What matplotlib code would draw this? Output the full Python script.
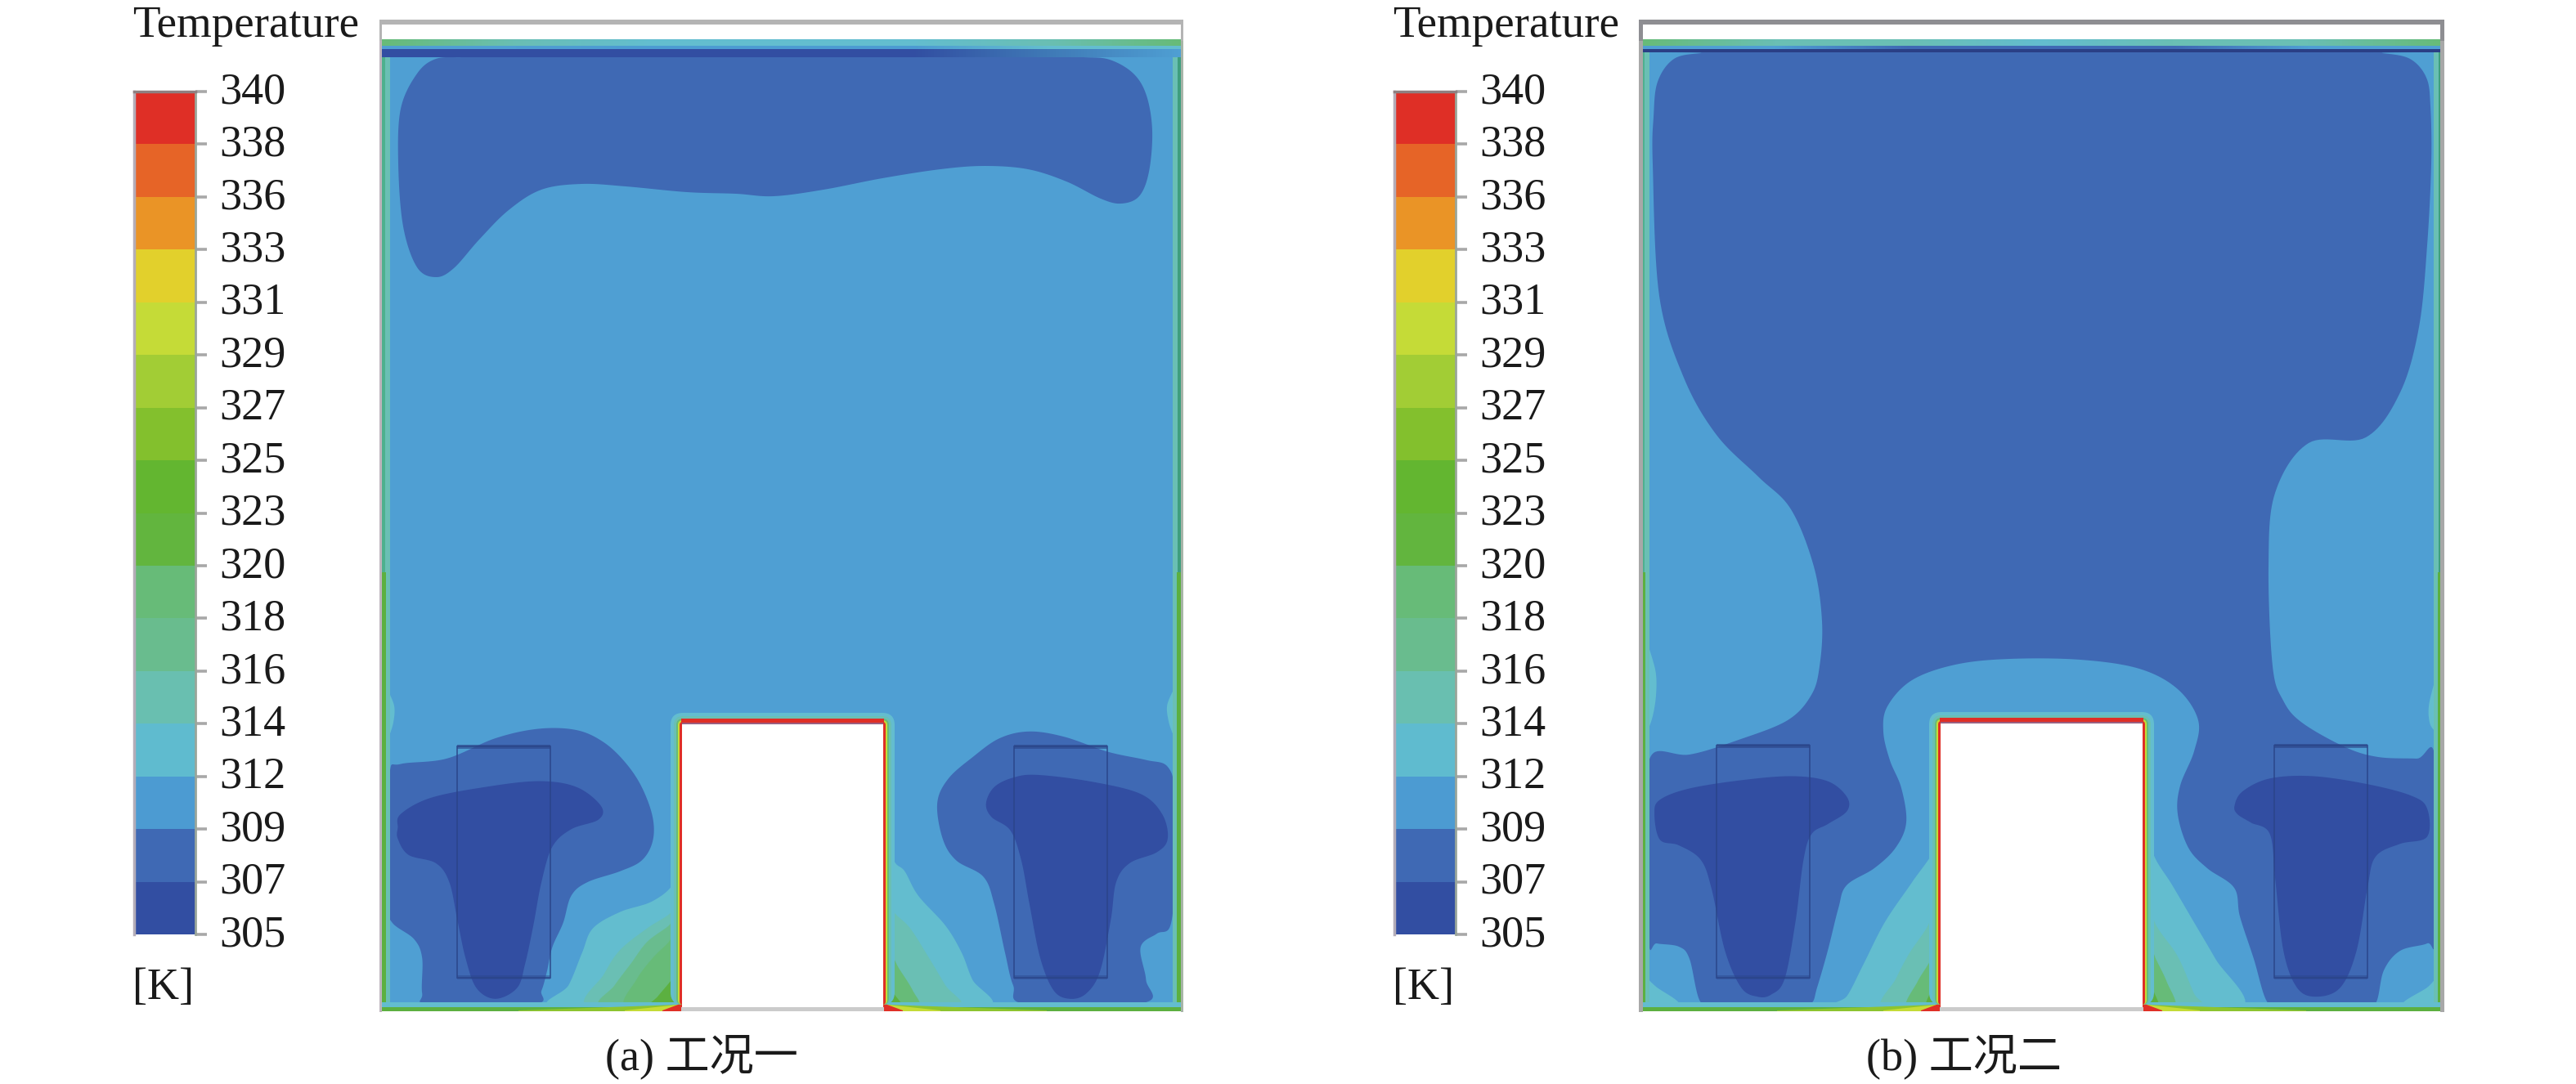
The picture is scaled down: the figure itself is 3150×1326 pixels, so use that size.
import numpy as np
import matplotlib
matplotlib.use("Agg")
import matplotlib.pyplot as plt
from matplotlib.patches import Polygon, Rectangle, FancyBboxPatch
from matplotlib.colors import ListedColormap, LinearSegmentedColormap
from matplotlib.transforms import ScaledTranslation

W, H = 3150, 1326

# colour bar
levels = [340, 338, 336, 333, 331, 329, 327, 325, 323, 320, 318, 316, 314, 312, 309, 307, 305]
band_colors = ['#DF2F26', '#E66427', '#EA9426', '#E2D02C', '#C5DB37', '#A2CD35', '#83C02D', '#63B630',
               '#62B53E', '#67BB78', '#69BC8E', '#69BFB0', '#5FBBCF', '#4C9BD2', '#3F69B4', '#324EA2']
MAIN = '#4F9FD3'
MID = '#3F69B4'
DARK = '#324EA2'
TEAL = '#63BDCF'
TEAL2 = '#6ABFB4'
GREEN = '#67BB78'
LINE = '#5CB040'

a_top_blob = [(533, 72), (510, 90), (490, 133), (487, 200), (493, 277), (510, 327), (533, 339), (555, 328),
              (586, 293), (622, 257), (662, 232), (711, 225), (765, 228), (840, 235), (900, 237), (946, 240),
              (1007, 232), (1079, 218), (1150, 207), (1204, 203), (1257, 207), (1304, 222), (1346, 243),
              (1371, 249), (1393, 240), (1405, 210), (1409, 160), (1402, 117), (1386, 90), (1357, 73),
              (1325, 70), (1280, 69), (900, 68), (600, 69), (565, 70)]
a_mid_left = [(55, 320), (75, 285), (160, 265), (250, 190), (330, 155), (400, 160), (450, 205), (490, 280),
              (520, 370), (540, 480), (540, 570), (520, 640), (480, 680), (420, 720), (390, 770), (375, 870),
              (355, 960), (345, 1050), (335, 1120), (320, 1170), (130, 1170), (115, 1130), (115, 1000),
              (100, 930), (60, 870), (50, 800), (55, 600)]
a_dark_left = [(70, 520), (75, 470), (130, 410), (230, 370), (330, 348), (400, 370), (445, 440), (440, 490),
               (390, 525), (355, 590), (335, 720), (320, 880), (305, 1020), (290, 1110), (250, 1150),
               (215, 1110), (195, 1000), (180, 860), (165, 720), (140, 650), (90, 620), (70, 560)]
a_mid_right = [(1065, 430), (1085, 340), (1130, 260), (1180, 190), (1235, 165), (1300, 185), (1380, 240),
               (1450, 270), (1490, 295), (1503, 400), (1503, 700), (1495, 880), (1470, 910), (1440, 960), (1450, 1080),
               (1445, 1165), (1230, 1170), (1205, 1100), (1190, 980), (1170, 800), (1150, 700), (1100, 640),
               (1075, 560)]
a_dark_right = [(1155, 430), (1170, 370), (1205, 335), (1250, 325), (1350, 350), (1440, 395), (1480, 470),
                (1490, 560), (1470, 610), (1420, 650), (1395, 720), (1385, 860), (1365, 1050), (1340, 1130),
                (1310, 1150), (1280, 1120), (1255, 1000), (1235, 800), (1220, 640), (1200, 530), (1165, 480)]
a_plumes = [
    (TEAL, [(592, 600), (580, 720), (540, 790), (480, 830), (430, 890), (410, 980), (385, 1100), (355, 1180), (592, 1195)]),
    (TEAL2, [(592, 760), (575, 830), (530, 890), (480, 970), (450, 1060), (420, 1180), (592, 1195)]),
    ('#69BC8E', [(592, 830), (570, 880), (530, 940), (500, 1020), (470, 1100), (445, 1180), (592, 1195)]),
    (GREEN, [(592, 880), (570, 940), (540, 1000), (510, 1080), (490, 1180), (592, 1195)]),
    (LINE, [(592, 1030), (575, 1080), (550, 1140), (535, 1180), (592, 1195)]),
    (TEAL, [(968, 520), (985, 640), (1005, 680), (1030, 770), (1080, 880), (1110, 980), (1130, 1080), (1160, 1180), (968, 1195)]),
    (TEAL2, [(968, 760), (985, 830), (1015, 890), (1050, 1000), (1080, 1100), (1105, 1180), (968, 1195)]),
    (GREEN, [(968, 960), (995, 1040), (1020, 1120), (1030, 1180), (968, 1195)]),
    (LINE, [(968, 1070), (985, 1130), (1000, 1180), (968, 1195)]),
]
a_wall_bulges = [[(40, 0), (62, 60), (62, 130), (50, 200), (40, 220)],
                 [(1512, 0), (1490, 60), (1492, 130), (1505, 200), (1512, 220)]]

b_big_blob = [(2110, 64), (2080, 65), (2047, 72), (2027, 100), (2022, 143), (2021, 201), (2029, 362), (2059, 462), (2099, 532),
              (2150, 583), (2190, 623), (2218, 693), (2228, 760), (2225, 815), (2215, 850), (2186, 881), (2126, 905),
              (2066, 923), (2020, 923), (2016, 989), (2016, 1149), (2026, 1154), (2053, 1158), (2066, 1173),
              (2079, 1225), (2100, 1228), (2195, 1228), (2215, 1227), (2222, 1208), (2235, 1163), (2248, 1111), (2258, 1083), (2292, 1062),
              (2318, 1037), (2331, 1006), (2325, 964), (2311, 930), (2303, 895), (2308, 864), (2338, 832), (2391, 813),
              (2457, 806), (2544, 807), (2616, 818), (2663, 843), (2688, 881), (2683, 919), (2666, 961), (2663, 996),
              (2676, 1037), (2699, 1062), (2732, 1086), (2739, 1121), (2756, 1173), (2772, 1225), (2790, 1228), (2885, 1228), (2905, 1227),
              (2915, 1187), (2935, 1163), (2968, 1154), (2978, 1142), (2978, 930), (2955, 928), (2908, 926),
              (2868, 914), (2815, 884), (2792, 857), (2779, 815), (2774, 693), (2782, 603), (2823, 542), (2893, 535),
              (2935, 480), (2958, 400), (2968, 300), (2973, 200), (2972, 130), (2967, 95), (2947, 72), (2913, 65), (2885, 64)]
b_dark_left = [(65, 620), (75, 570), (130, 530), (230, 500), (320, 487), (385, 505), (420, 560), (420, 610), (385, 655),
               (355, 690), (340, 780), (325, 1000), (305, 1200), (280, 1255), (255, 1262), (225, 1230), (195, 1100),
               (170, 880), (150, 780), (110, 730), (75, 710)]
b_dark_right = [(1135, 590), (1150, 540), (1200, 495), (1280, 487), (1380, 515), (1460, 555), (1490, 600), (1490, 700),
                (1440, 725), (1395, 770), (1380, 880), (1360, 1100), (1330, 1230), (1285, 1262), (1250, 1230),
                (1225, 1100), (1210, 850), (1200, 690), (1165, 650), (1140, 620)]
b_plumes = [
    (TEAL, [(592, 620), (582, 740), (540, 860), (490, 1000), (450, 1150), (420, 1260), (395, 1300), (592, 1315)]),
    (TEAL2, [(592, 900), (570, 1010), (535, 1110), (510, 1200), (485, 1300), (592, 1315)]),
    (GREEN, [(592, 1040), (575, 1130), (550, 1210), (530, 1300), (592, 1315)]),
    (LINE, [(592, 1170), (578, 1230), (565, 1300), (592, 1315)]),
    (TEAL, [(968, 620), (985, 760), (1020, 870), (1060, 1000), (1100, 1130), (1150, 1300), (968, 1315)]),
    (TEAL2, [(968, 900), (990, 1010), (1030, 1120), (1060, 1250), (1075, 1300), (968, 1315)]),
    (GREEN, [(968, 1040), (990, 1130), (1010, 1210), (1025, 1300), (968, 1315)]),
    (LINE, [(968, 1170), (985, 1240), (995, 1300), (968, 1315)]),
    (TEAL, [(40, 1190), (70, 1230), (110, 1290), (40, 1300)]),
    (TEAL, [(1515, 1190), (1490, 1230), (1445, 1290), (1515, 1300)]),
]
b_wall_bulges = [[(40, 0), (65, 100), (68, 200), (58, 300), (40, 340)],
                 [(1518, 100), (1495, 220), (1495, 300), (1510, 340), (1518, 360)]]

# top strip colours, left to right across the panel
a_strip_upper = [GREEN, '#6ABFB4', TEAL, TEAL, TEAL, '#6ABFB4', GREEN]
a_strip_lower = [MAIN, MAIN, '#4C9BD2', '#4C9BD2', '#4C9BD2', TEAL, TEAL]
a_strip_dark = [DARK, DARK, DARK, DARK, DARK, '#3F79B6', MAIN]
b_strip_upper = [GREEN, TEAL2, TEAL2, TEAL, TEAL2, TEAL2, GREEN]
b_strip_lower = [MAIN, MAIN, MID, MID, MID, MAIN, MAIN]
b_strip_dark = ['#2A3F86', '#2A3F86', '#2A3F86', '#2A3F86', '#2A3F86', '#2A3F86', '#2A3F86']

boxes_a = [(559, 913, 673, 1196), (1240, 913, 1354, 1196)]
boxes_b = [(2099, 912, 2213, 1196), (2781, 912, 2895, 1196)]


def crop_a(pts):
    return [(440 + 0.663 * x, 840 + 0.332 * y) for x, y in pts]


def crop_b(pts):
    return [(1980 + 0.663 * x, 780 + 0.348 * y) for x, y in pts]


def smooth(pts, n=14):
    # closed catmull-rom through the read points
    p = np.array(pts, dtype=float)
    out = []
    for i in range(len(p)):
        p0, p1, p2, p3 = p[i - 1], p[i], p[(i + 1) % len(p)], p[(i + 2) % len(p)]
        for t in np.linspace(0, 1, n, endpoint=False):
            out.append(0.5 * (2 * p1 + (p2 - p0) * t + (2 * p0 - 5 * p1 + 4 * p2 - p3) * t ** 2
                              + (3 * p1 - p0 - 3 * p2 + p3) * t ** 3))
    return np.array(out)


def blob(ax, pts, color, clip, z=2):
    patch = Polygon(smooth(pts), closed=True, fc=color, ec='none', zorder=z)
    ax.add_patch(patch)
    patch.set_clip_path(clip)


def rect(ax, x0, y0, x1, y1, color, z=5, alpha=None):
    ax.add_patch(Rectangle((x0, y0), x1 - x0, y1 - y0, fc=color, ec='none', zorder=z, alpha=alpha))


def strip(ax, colors, x0, x1, y0, y1):
    cm = LinearSegmentedColormap.from_list('s', colors)
    ax.imshow(np.linspace(0, 1, 256).reshape(1, -1), cmap=cm, extent=(x0, x1, y1, y0), aspect='auto', zorder=7)


def panel(ax, left, right, block, mids, darks, plumes, bulges, strips, boxes, frame_color, frame_w, caption, cap_x):
    bl, br, bt = block
    bottom = 1237
    rect(ax, left, 50, right, bottom, MAIN, z=1)
    field = Rectangle((left, 50), right - left, bottom - 50, transform=ax.transData, fc='none', ec='none')
    ax.add_patch(field)
    for pts in plumes:
        blob(ax, pts[1], pts[0], field, z=4)
    for pts in mids:
        blob(ax, pts, MID, field, z=2)
    for pts in darks:
        blob(ax, pts, DARK, field, z=3)
    for pts in bulges:
        blob(ax, pts, TEAL, field, z=4)

    # inner air boxes
    for x0, y0, x1, y1 in boxes:
        ax.add_patch(Rectangle((x0, y0), x1 - x0, y1 - y0, fc='none', ec='#2A4488', lw=1.3, alpha=0.8, zorder=6))
        rect(ax, x0, y0 - 2, x1, y0 + 3, '#2A4488', z=6, alpha=0.6)
        rect(ax, x0, y1 - 3, x1, y1 + 2, '#2A4488', z=6, alpha=0.4)

    # walls and floor
    rect(ax, left, 48, left + 10, bottom, TEAL2, z=7)
    rect(ax, right - 10, 48, right, bottom, TEAL2, z=7)
    rect(ax, left, 700, left + 5, bottom, LINE, z=7)
    rect(ax, right - 5, 700, right, bottom, LINE, z=7)
    rect(ax, right - 4, 48, right, 700, '#3F9E7E', z=7)
    rect(ax, left, 48, left + 4, 700, '#4DB08E', z=7)
    rect(ax, left, 1226, right, 1233, TEAL, z=7)
    rect(ax, left, 1232, right, bottom, LINE, z=7)

    # top strips
    upper, lower, dark, dy0, dy1 = strips
    strip(ax, upper, left, right, 48, 56)
    strip(ax, lower, left, right, 56, 61)
    strip(ax, dark, left, right, dy0, dy1)

    # hot wedges at the block foot
    for c, rise, run in [('#8DC42F', 60, 200), ('#C5DB37', 24, 70), ('#DF2F26', 10, 24)]:
        ax.add_patch(Polygon([(bl, bottom), (bl, bottom - rise), (bl - 5, bottom - 8), (bl - run, bottom - 1), (bl - run, bottom)],
                             fc=c, ec='none', zorder=8))
        ax.add_patch(Polygon([(br, bottom), (br, bottom - rise), (br + 5, bottom - 8), (br + run, bottom - 1), (br + run, bottom)],
                             fc=c, ec='none', zorder=8))

    # halo round the heated block
    for off, c in [(14, TEAL), (10, TEAL2), (7, GREEN), (5, '#C5DB37'), (3, '#DF2F26')]:
        ax.add_patch(FancyBboxPatch((bl - off, bt - off), br - bl + 2 * off, bottom - bt + off - 8, ec='none', fc=c,
                                    boxstyle='round,pad=0,rounding_size=%d' % (off + 1), zorder=9))
    rect(ax, bl - 1, bt - 7, br + 1, bt, '#DF2F26', z=10)
    rect(ax, bl, bt - 2, br, bt + 1, '#9A5F80', z=11)
    rect(ax, bl, bt, br, bottom, 'white', z=12)
    rect(ax, bl - 1, bottom - 5, br + 1, bottom, '#CBCBCB', z=13)

    # open frame above the field, the grey runs down the walls
    rect(ax, left - 3, 24, right + 3, 30, frame_color, z=14)
    rect(ax, left - 3, 24, left + frame_w - 3, 50, frame_color, z=14)
    rect(ax, right + 3 - frame_w, 24, right + 3, 50, frame_color, z=14)
    rect(ax, left - 3, 50, left - 3 + frame_w, bottom + 1, '#BDB4BC' if frame_w < 5 else '#A8A8A8', z=14)
    rect(ax, right + 3 - frame_w, 50, right + 3, bottom + 1, '#A8B4A8' if frame_w < 5 else '#A8A8A8', z=14)
    ax.text(cap_x, 1308, caption, ha='center', va='baseline', fontsize=39, color='#1a1a1a',
            family=['Liberation Serif', 'Noto Sans CJK SC'], zorder=20)


def colorbar(fig, ax, x0):
    top, bot = 112, 1143
    cax = fig.add_axes([x0 / W, 1 - bot / H, 75 / W, (bot - top) / H])
    z = np.arange(len(band_colors))[::-1].reshape(-1, 1)
    cmap = ListedColormap(band_colors[::-1])
    cax.pcolormesh([0, 1], np.arange(len(levels)), z[::-1], cmap=cmap, vmin=-0.5, vmax=len(band_colors) - 0.5)
    cax.set_xticks([])
    cax.set_ylim(0, len(levels) - 1)
    cax.set_yticks(np.arange(len(levels)))
    cax.set_yticklabels([str(v) for v in levels[::-1]], family='Liberation Serif', fontsize=39, color='#1a1a1a')
    cax.yaxis.tick_right()
    cax.tick_params(axis='y', length=10, width=2.6, color='#a8a8a8', pad=11)
    lift = ScaledTranslation(0, 5 / 100, fig.dpi_scale_trans)
    for lab in cax.get_yticklabels():
        lab.set_transform(lab.get_transform() + lift)
    for name, sp in cax.spines.items():
        sp.set_visible(name in ('left', 'top', 'right'))
    cax.spines['left'].set_color('#B4ADB8')
    cax.spines['left'].set_linewidth(2.5)
    cax.spines['right'].set_color('#9AA69A')
    cax.spines['right'].set_linewidth(2)
    cax.spines['top'].set_color('#8F8080')
    cax.spines['top'].set_linewidth(2.5)
    ax.text(x0 - 2, 45, 'Temperature', family='Liberation Serif', fontsize=39.6, color='#1a1a1a', va='baseline', ha='left')
    ax.text(x0 - 2, 1222, '[K]', family='Liberation Serif', fontsize=39, color='#1a1a1a', va='baseline', ha='left')


fig = plt.figure(figsize=(W / 100, H / 100), dpi=100)
ax = fig.add_axes([0, 0, 1, 1])

panel(ax, 467, 1444, (834, 1080, 886),
      [a_top_blob, crop_a(a_mid_left), crop_a(a_mid_right)],
      [crop_a(a_dark_left), crop_a(a_dark_right)],
      [(c, crop_a(p)) for c, p in a_plumes],
      [crop_a(p) for p in a_wall_bulges],
      (a_strip_upper, a_strip_lower, a_strip_dark, 60, 70),
      boxes_a, '#B4B4B4', 3, '(a) 工况一', 858)

panel(ax, 2007, 2986, (2373, 2620, 885),
      [b_big_blob],
      [crop_b(b_dark_left), crop_b(b_dark_right)],
      [(c, crop_b(p)) for c, p in b_plumes],
      [crop_b(p) for p in b_wall_bulges],
      (b_strip_upper, b_strip_lower, b_strip_dark, 60, 64),
      boxes_b, '#8E8E92', 5, '(b) 工况二', 2401)

colorbar(fig, ax, 164)
colorbar(fig, ax, 1705)

ax.set_xlim(0, W)
ax.set_ylim(H, 0)
ax.axis('off')

plt.savefig('out.png', dpi=100)
